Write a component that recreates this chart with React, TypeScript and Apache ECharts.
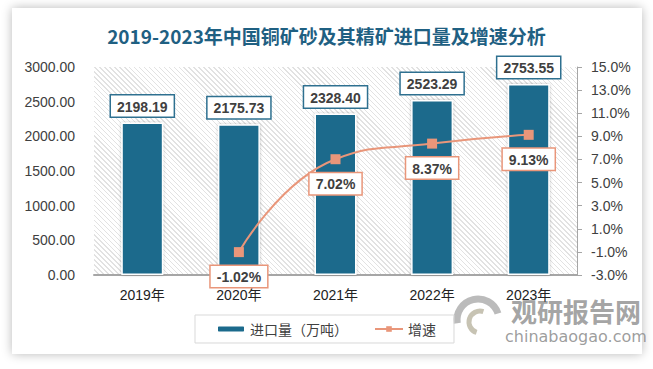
import React, { useEffect, useRef } from "react";
import * as echarts from "echarts";

const years = ["2019年", "2020年", "2021年", "2022年", "2023年"];
const importVolume = [2198.19, 2175.73, 2328.4, 2523.29, 2753.55];
const growthRate: (number | null)[] = [null, -1.02, 7.02, 8.37, 9.13];
const seriesNames = ["进口量（万吨）", "增速"];
const titleText = "2019-2023年中国铜矿砂及其精矿进口量及增速分析";
const leftAxis = { min: 0, max: 3000, interval: 500 };
const rightAxis = { min: -3, max: 15, interval: 2 };

const FONT = '"Liberation Sans", "Noto Sans CJK SC", sans-serif';
const BAR_COLOR = "#1b6a8c";
const LINE_COLOR = "#e9967a";

export default function App() {
  const ref = useRef<HTMLDivElement>(null);
  useEffect(() => {
    if (!ref.current) return;
    const chart = echarts.init(ref.current, null, { renderer: "svg" });
    const shift = -rightAxis.min; // right axis drawn from 0 so ticks start at min
    chart.setOption({
      animation: false,
      backgroundColor: "transparent",
      textStyle: { fontFamily: FONT },
      title: {
        text: titleText,
        left: "center",
        top: 21,
        textStyle: { fontSize: 19, fontWeight: "bold", color: "#1f6082", fontFamily: '"Noto Sans CJK SC", sans-serif' },
      },
      grid: { left: 94, right: 76, top: 67, bottom: 94 },
      legend: {
        data: seriesNames,
        left: 195,
        top: 315,
        borderColor: "#d9d9d9",
        borderWidth: 1,
        padding: [7, 18, 7, 21],
        itemGap: 26,
        itemWidth: 28,
        itemHeight: 7,
        textStyle: { fontSize: 14, color: "#404040", fontFamily: '"Noto Sans CJK SC", sans-serif' },
      },
      xAxis: {
        type: "category",
        data: years,
        axisLine: { lineStyle: { color: "#a6a6a6", width: 2 } },
        axisTick: { show: false },
        axisLabel: { color: "#222", fontSize: 14, margin: 13, fontFamily: FONT },
      },
      yAxis: [
        {
          type: "value",
          min: leftAxis.min,
          max: leftAxis.max,
          interval: leftAxis.interval,
          axisLine: { show: false },
          axisTick: { show: false },
          splitLine: { show: false },
          axisLabel: {
            color: "#404040",
            fontSize: 14,
            margin: 19,
            formatter: (v: number) => v.toFixed(2),
          },
        },
        {
          type: "value",
          position: "right",
          min: rightAxis.min + shift,
          max: rightAxis.max + shift,
          interval: rightAxis.interval,
          axisLine: { show: true, lineStyle: { color: "#a6a6a6", width: 1 } },
          axisTick: { show: true, length: 5, lineStyle: { color: "#a6a6a6" } },
          splitLine: { show: false },
          axisLabel: {
            color: "#404040",
            fontSize: 14,
            margin: 14,
            formatter: (v: number) => (v - shift).toFixed(1) + "%",
          },
        },
      ],
      series: [
        {
          name: seriesNames[0],
          type: "bar",
          data: importVolume,
          barWidth: 42,
          itemStyle: {
            color: BAR_COLOR,
            borderColor: "#ffffff",
            borderWidth: 1.5,
            shadowColor: "rgba(0,0,0,0.25)",
            shadowBlur: 3,
          },
          label: {
            show: true,
            position: "top",
            distance: 6,
            formatter: (p: any) => importVolume[p.dataIndex].toFixed(2),
            backgroundColor: "#fff",
            borderColor: "#2e7090",
            borderWidth: 1.5,
            padding: [4, 6, 3, 6],
            fontSize: 14,
            fontWeight: "bold",
            color: "#404040",
          },
        },
        {
          name: seriesNames[1],
          type: "line",
          yAxisIndex: 1,
          data: growthRate.map((v) => (v == null ? null : v + shift)),
          smooth: true,
          symbol: "rect",
          symbolSize: 10,
          lineStyle: { color: LINE_COLOR, width: 2 },
          itemStyle: { color: LINE_COLOR },
          z: 5,
          label: {
            show: true,
            position: "bottom",
            distance: 9,
            formatter: (p: any) => (growthRate[p.dataIndex] as number).toFixed(2) + "%",
            backgroundColor: "#fff",
            borderColor: LINE_COLOR,
            borderWidth: 1.5,
            padding: [4, 6, 3, 6],
            fontSize: 14,
            fontWeight: "bold",
            color: "#404040",
          },
        },
      ],
      graphic: [
        {
          type: "arc",
          shape: { cx: 478, cy: 320, r: 21, startAngle: Math.PI * 0.95, endAngle: Math.PI * 1.9 },
          style: { stroke: "rgba(170,170,170,0.8)", lineWidth: 7, fill: "none" },
          silent: true,
        },
        {
          type: "arc",
          shape: { cx: 480, cy: 322, r: 11, startAngle: Math.PI * 0.6, endAngle: Math.PI * 1.6 },
          style: { stroke: "rgba(185,180,160,0.8)", lineWidth: 5, fill: "none" },
          silent: true,
        },
        {
          type: "text",
          x: 511,
          y: 297,
          style: {
            text: "观研报告网",
            fontSize: 26,
            lineHeight: 26,
            fontWeight: "bold",
            fill: "rgba(140,140,140,0.8)",
            fontFamily: '"Noto Sans CJK SC", sans-serif',
          },
          silent: true,
        },
        {
          type: "text",
          x: 505,
          y: 328,
          style: {
            text: "chinabaogao.com",
            fontSize: 16,
            lineHeight: 16,
            fill: "rgba(140,140,140,0.85)",
            fontFamily: '"DejaVu Sans", sans-serif',
          },
          silent: true,
        },
      ],
    });
    return () => chart.dispose();
  }, []);

  return (
    <div style={{ position: "fixed", left: 0, top: 0, width: 653, height: 369, background: "#fff", overflow: "hidden" }}>
      <div
        style={{
          position: "absolute",
          left: 12,
          top: 8,
          width: 630,
          height: 346,
          background: "#fff",
          boxShadow: "0 0 10px rgba(0,0,0,0.28)",
        }}
      />
      <div
        style={{
          position: "absolute",
          left: 94,
          top: 67,
          width: 483,
          height: 208,
          background: "repeating-linear-gradient(45deg, #e2e2e2 0px, #e2e2e2 1px, #ffffff 1px, #ffffff 3.5px)",
        }}
      />
      <div ref={ref} style={{ position: "absolute", left: 0, top: 0, width: 653, height: 369 }} />
    </div>
  );
}
